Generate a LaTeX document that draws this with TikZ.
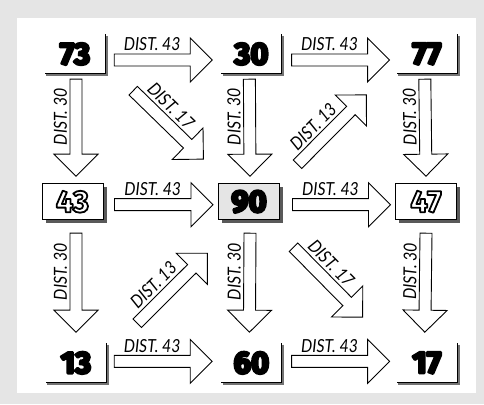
\documentclass[tikz,border=0pt]{standalone}
\usepackage{fontspec}
\usetikzlibrary{positioning,shadows,calc}
\newfontfamily\numfont{Fira Sans}
\newfontfamily\distfont{Lato}[FakeStretch=0.88]
\newcommand\distside{1}
\newcommand\distturn{0}
% stroked digits: heavy black, or hollow white with black outline
\newcommand\heavyon{\special{pdf:literal direct 0 G 2.6 w 1 j 2 Tr}}
\newcommand\strokeoff{\special{pdf:literal direct 0 Tr}}
\newcommand\hollow[1]{{\color{white}\special{pdf:literal direct 0 G 1.8 w 1 j 2 Tr}#1\strokeoff}}

\begin{document}
\begin{tikzpicture}[
    x=1pt, y=1pt,
    numfont/.style={font=\numfont\bfseries\fontsize{31}{31}\selectfont},
    heavy/.style={execute at begin node=\heavyon, execute at end node=\strokeoff},
    cornerbox/.style={numfont, heavy, minimum width=60pt, minimum height=39pt, inner sep=0pt},
    midbox/.style={numfont, draw, line width=1pt, fill=white, minimum width=61pt, minimum height=36pt,
        inner sep=0pt,
        drop shadow={shadow xshift=3.5pt, shadow yshift=-3.5pt, fill=black!65, opacity=1}},
    dist/.store in=\distlabel,
    flip/.code={\def\distside{-1}\def\distturn{180}},
    distfont/.style={font=\distfont\itshape\fontsize{18}{18}\selectfont, inner sep=2.5pt},
    fat/.style={draw, fill=white, line width=0.9pt, line join=miter, to path={
        let \p1=(\tikztostart), \p2=(\tikztotarget),
            \n1={atan2(\y2-\y1,\x2-\x1)}, \n2={veclen(\x2-\x1,\y2-\y1)} in
        {[shift={(\p1)}, rotate=\n1]
        (0,-6) -- (\n2-22,-6) -- (\n2-22,-22) -- (\n2,0)
        -- (\n2-22,22) -- (\n2-22,6) -- (0,6) -- cycle
        ({(\n2-22)/2}, {6*\distside}) node[distfont, anchor=south, rotate=\n1+\distturn] {\distlabel}}
    }}
]
    % Frame
    \useasboundingbox (0,0) rectangle (484,404);
    \fill[black!10] (0,0) rectangle (484,404);
    \fill[white] (17,11) rectangle (476,386);

    % Values
    \node[cornerbox] (n73) at (75,350) {73};
    \node[cornerbox, right=116pt of n73] (n30) {30};
    \node[cornerbox, right=115pt of n30] (n77) {77};
    \node[midbox, below=109.5pt of n73, xshift=-2.5pt] (n43) {\hollow{43}};
    \node[midbox, heavy, fill=black!10, right=114.5pt of n43] (n90) {90};
    \node[midbox, right=115pt of n90] (n47) {\hollow{47}};
    \node[cornerbox, below=123pt of n43, xshift=3.5pt] (n13) {13};
    \node[cornerbox, right=115pt of n13] (n60) {60};
    \node[cornerbox, right=115pt of n60] (n17) {17};

    \foreach \n in {n73,n30,n77,n13,n60,n17} {
        \draw[black!55, line width=2.5pt] ([shift={(1.5,-1.5)}]\n.north east) |- ([shift={(1.5,-1.5)}]\n.south west);
        \draw[line width=1pt] (\n.north east) |- (\n.south west);
    }

    % Rows
    \draw[fat, dist={DIST. 43}] ([shift={(9,-6)}]n73.east) to ([shift={(-9,-6)}]n30.west);
    \draw[fat, dist={DIST. 43}] ([shift={(10,-6)}]n30.east) to ([shift={(-7,-6)}]n77.west);
    \draw[fat, dist={DIST. 43}] ([shift={(11,-3)}]n43.east) to ([shift={(-5,-3)}]n90.west);
    \draw[fat, dist={DIST. 43}] ([shift={(12.5,-3)}]n90.east) to ([shift={(-4.5,-3)}]n47.west);
    \draw[fat, dist={DIST. 43}] ([shift={(8,1.5)}]n13.east) to ([shift={(-9,1.5)}]n60.west);
    \draw[fat, dist={DIST. 43}] ([shift={(10,1.5)}]n60.east) to ([shift={(-7,1.5)}]n17.west);

    % Columns
    \draw[fat, flip, dist={DIST. 30}] ([shift={(1,-5.5)}]n73.south) to ([shift={(3.5,7)}]n43.north);
    \draw[fat, flip, dist={DIST. 30}] ([shift={(-2,-5.5)}]n30.south) to ([shift={(1,7)}]n90.north);
    \draw[fat, flip, dist={DIST. 30}] ([shift={(-2,-5.5)}]n77.south) to ([shift={(0,7)}]n47.north);
    \draw[fat, flip, dist={DIST. 30}] ([shift={(3.5,-13)}]n43.south) to ([shift={(0,11)}]n13.north);
    \draw[fat, flip, dist={DIST. 30}] ([shift={(1,-13)}]n90.south) to ([shift={(-2,11)}]n60.north);
    \draw[fat, flip, dist={DIST. 30}] ([shift={(0,-13)}]n47.south) to ([shift={(-2,11)}]n17.north);

    % Diagonals
    \draw[fat, dist={DIST. 17}] ([shift={(28,-17)}]n73.south east) to ([shift={(-14.5,24)}]n90.north west);
    \draw[fat, dist={DIST. 13}] ([shift={(17.5,19)}]n90.north east) to ([shift={(-30,-21)}]n77.south west);
    \draw[fat, dist={DIST. 13}] ([shift={(31,20)}]n13.north east) to ([shift={(-10.5,-33)}]n90.south west);
    \draw[fat, dist={DIST. 17}] ([shift={(13.5,-27)}]n90.south east) to ([shift={(-34,26)}]n17.north west);
\end{tikzpicture}
\end{document}
